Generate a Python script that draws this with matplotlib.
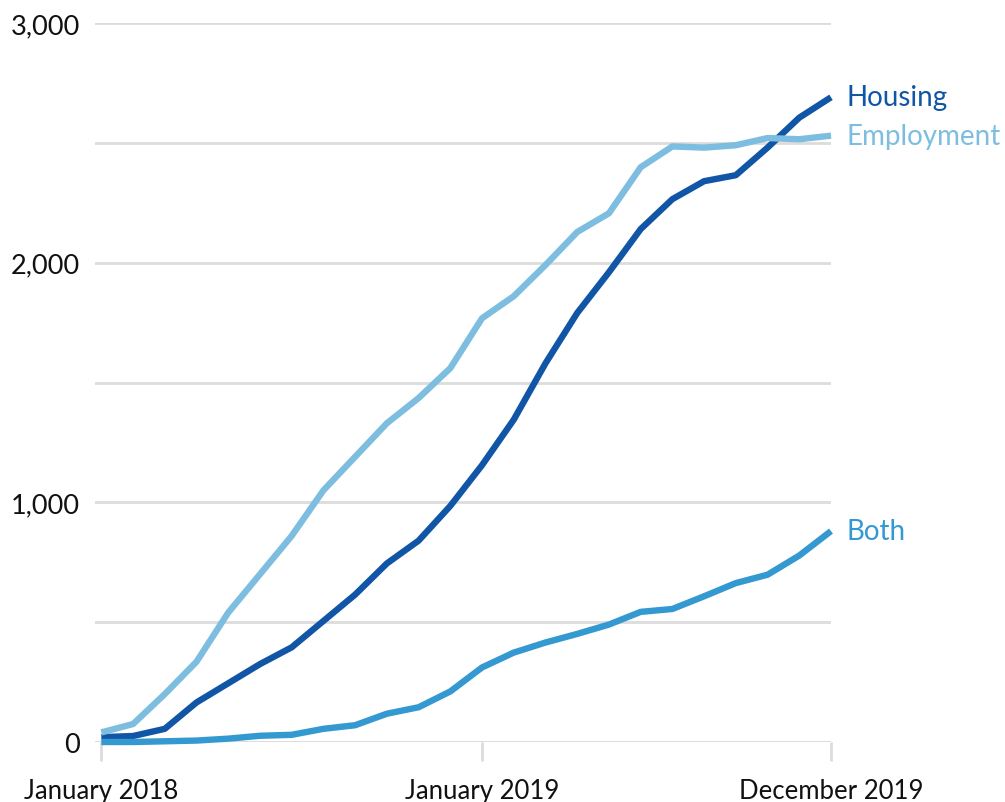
import matplotlib.pyplot as plt
import numpy as np

plt.rcParams['font.family'] = ['Lato', 'DejaVu Sans']

months = np.arange(24)  # January 2018 ... December 2019
housing = [20, 25, 55, 165, 245, 325, 395, 505, 615, 745, 840, 985,
           1155, 1345, 1580, 1790, 1960, 2140, 2265, 2340, 2365, 2480, 2605, 2690]
employment = [40, 75, 200, 335, 540, 700, 860, 1050, 1190, 1330, 1435, 1560,
              1768, 1860, 1990, 2128, 2206, 2398, 2485, 2480, 2490, 2520, 2515, 2530]
both = [0, 0, 3, 6, 14, 26, 30, 55, 70, 118, 145, 211,
        311, 373, 415, 451, 490, 543, 555, 608, 663, 698, 778, 880]

series = [('Housing', housing, '#1156a6'),
          ('Employment', employment, '#7dbde0'),
          ('Both', both, '#3399d0')]

fig = plt.figure(figsize=(10.05, 8.03), dpi=100)
ax = fig.add_axes([95 / 1005, 1 - 743 / 803, (831 - 95) / 1005, (743 - 24) / 803])

for name, vals, color in series:
    ax.plot(months, vals, color=color, lw=4.6, solid_capstyle='butt',
            clip_on=False, zorder=3)
    ax.annotate(name, (months[-1], vals[-1]), xytext=(11, 0),
                textcoords='offset points', va='center', ha='left',
                color=color, fontsize=20, annotation_clip=False)

ax.set_xlim(-0.2, 23)
ax.set_ylim(0, 3000)
ax.set_yticks(np.arange(0, 3001, 500))
ax.set_yticklabels(['0', '', '1,000', '', '2,000', '', '3,000'])
ax.set_xticks([0, 12, 23])
ax.set_xticklabels(['January 2018', 'January 2019', 'December 2019'])

ax.grid(axis='y', color='#dcdcdc', lw=2)
ax.set_axisbelow(True)
for s in ax.spines.values():
    s.set_visible(False)
ax.tick_params(axis='y', length=0, pad=11, labelsize=19.5, labelcolor='#111111')
ax.tick_params(axis='x', length=14, width=2, color='#dcdcdc', pad=12,
               labelsize=18.5, labelcolor='#111111')
ax.axhline(0, color='#dcdcdc', lw=2, zorder=1)

fig.savefig('out.png', dpi=100)
